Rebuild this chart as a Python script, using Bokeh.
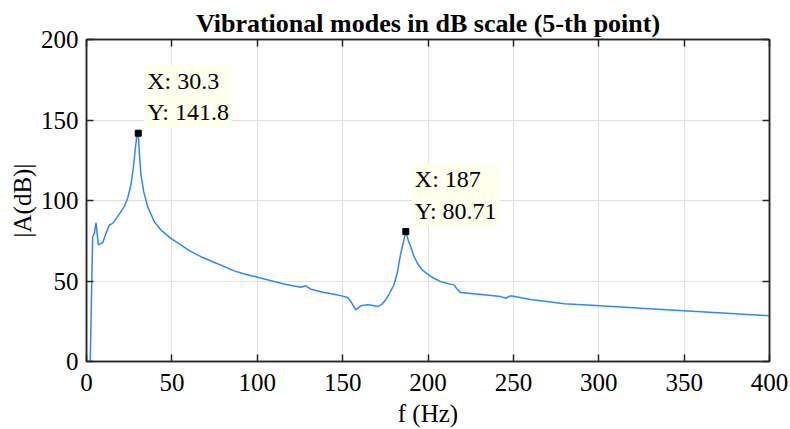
from bokeh.plotting import figure
from bokeh.models import Label, LinearAxis, FixedTicker, CustomJSTickFormatter
from bokeh.embed import file_html
from bokeh.resources import INLINE

# Frequency (Hz) and amplitude (dB)
freq = [2.2, 3.6, 4.6, 5.6, 6.9, 8.5, 9.5, 11.4, 13.4, 15.3, 18.2, 22.1, 24.1,
        26.0, 27.4, 28.4, 29.4, 30.3, 30.5, 30.9, 31.9, 33.5, 35.8, 39.7, 43.6,
        49.4, 55.3, 60.0, 67.0, 75.0, 86.5, 92.0, 99.2, 107.0, 115.7, 120.0,
        125.5, 128.4, 131.4, 138.0, 145.0, 150.0, 152.8, 154.8, 157.7, 160.6,
        164.5, 167.0, 170.4, 173.0, 175.0, 177.2, 180.0, 182.0, 184.0, 185.8,
        187.0, 188.5, 189.9, 191.5, 193.8, 196.5, 199.6, 203.0, 207.4, 212.0,
        215.2, 217.0, 219.1, 230.0, 242.5, 245.5, 248.4, 260.0, 277.6, 280.0,
        301.0, 325.0, 349.8, 375.0, 400.0]
amp = [0.0, 77.5, 79.6, 86.2, 72.4, 73.4, 73.8, 79.6, 84.8, 85.8, 90.0, 96.2, 101.4,
       109.6, 120.0, 130.3, 139.6, 141.8, 138.6, 130.3, 115.8, 105.5, 96.2, 86.8, 81.7,
       76.5, 72.4, 69.0, 65.1, 61.5, 56.3, 54.5, 52.7, 50.5, 48.2, 47.2,
       46.1, 47.0, 44.9, 43.2, 41.8, 40.6, 39.7, 37.2, 32.1, 34.6,
       35.2, 35.0, 34.1, 35.5, 38.0, 41.8, 47.5, 55.0, 67.0, 75.0,
       80.71, 75.0, 71.3, 66.0, 61.0, 57.0, 54.4, 52.0, 49.6, 48.3,
       47.6, 45.0, 42.8, 41.8, 40.3, 39.3, 40.8, 38.5, 36.2, 35.9,
       34.6, 33.0, 31.5, 30.0, 28.4]

# Data tips
tip_f = [30.3, 187.0]
tip_a = [141.8, 80.71]
tip_text = ["X: 30.3\nY: 141.8", "X: 187\nY: 80.71"]

x_ticks = [0, 50, 100, 150, 200, 250, 300, 350, 400]
y_ticks = [0, 50, 100, 150, 200]
title_text = "Vibrational modes in dB scale (5-th point)"

FONT = "Liberation Serif"
AXC = "#262626"

p = figure(width=790, height=429, x_range=(0, 400), y_range=(0, 200),
           output_backend="svg", toolbar_location=None,
           min_border_left=86, min_border_right=21, min_border_top=39,
           min_border_bottom=67, title=title_text)

p.title.text_font = FONT
p.title.text_font_style = "bold"
p.title.text_font_size = "26px"
p.title.align = "center"
p.title.text_color = "black"
p.title.text_line_height = 0.8
p.title.standoff = 4

p.outline_line_color = AXC
p.outline_line_width = 1.5
p.background_fill_color = "white"
p.border_fill_color = "white"

for ax in (p.xaxis[0], p.yaxis[0]):
    ax.major_label_text_font = FONT
    ax.major_label_text_font_size = "25px"
    ax.major_label_text_color = "black"
    ax.axis_label_text_font = FONT
    ax.axis_label_text_font_size = "25px"
    ax.axis_label_text_font_style = "normal"
    ax.axis_label_text_color = "black"
    ax.axis_line_color = AXC
    ax.axis_line_width = 1.5
    ax.major_tick_in = 7
    ax.major_tick_out = 0
    ax.major_tick_line_color = AXC
    ax.major_tick_line_width = 1.5
    ax.minor_tick_line_color = None

p.xaxis[0].major_label_standoff = 12
p.xaxis[0].axis_label_standoff = 6
p.yaxis[0].major_label_standoff = 8
p.yaxis[0].axis_label_standoff = 2

p.xaxis[0].ticker = FixedTicker(ticks=x_ticks)
p.yaxis[0].ticker = FixedTicker(ticks=y_ticks)
p.xaxis[0].axis_label = "f (Hz)"
p.yaxis[0].axis_label = "|A(dB)|"

blank = CustomJSTickFormatter(code="return ''")
top = LinearAxis(ticker=FixedTicker(ticks=x_ticks), formatter=blank,
                 major_tick_in=7, major_tick_out=0, major_tick_line_color=AXC,
                 major_tick_line_width=1.5, minor_tick_line_color=None,
                 axis_line_color=AXC, axis_line_width=1.5,
                 major_label_standoff=0, major_label_text_font_size="0px")
right = LinearAxis(ticker=FixedTicker(ticks=y_ticks), formatter=blank,
                   major_tick_in=7, major_tick_out=0, major_tick_line_color=AXC,
                   major_tick_line_width=1.5, minor_tick_line_color=None,
                   axis_line_color=AXC, axis_line_width=1.5,
                   major_label_standoff=0, major_label_text_font_size="0px")
p.add_layout(top, "above")
p.add_layout(right, "right")

p.xgrid.ticker = FixedTicker(ticks=x_ticks)
p.ygrid.ticker = FixedTicker(ticks=y_ticks)
p.xgrid.grid_line_color = "#d9e1e4"
p.ygrid.grid_line_color = "#d9e1e4"
p.xgrid.grid_line_width = 1
p.ygrid.grid_line_width = 1

p.line(freq, amp, line_color="#3388ee", line_width=1.5)
p.scatter(tip_f, tip_a, marker="square", size=6, color="black")

for fx, ay, txt in zip(tip_f, tip_a, tip_text):
    p.add_layout(Label(x=fx, y=ay, text=txt, x_offset=6, y_offset=5,
                       anchor="bottom_left", text_align="left",
                       text_font=FONT, text_font_size="24px",
                       text_color="black", text_line_height=1.2,
                       background_fill_color="#ffffee",
                       padding=(3, 3), border_line_color=None))

open("out.html", "w").write(file_html(p, INLINE))
